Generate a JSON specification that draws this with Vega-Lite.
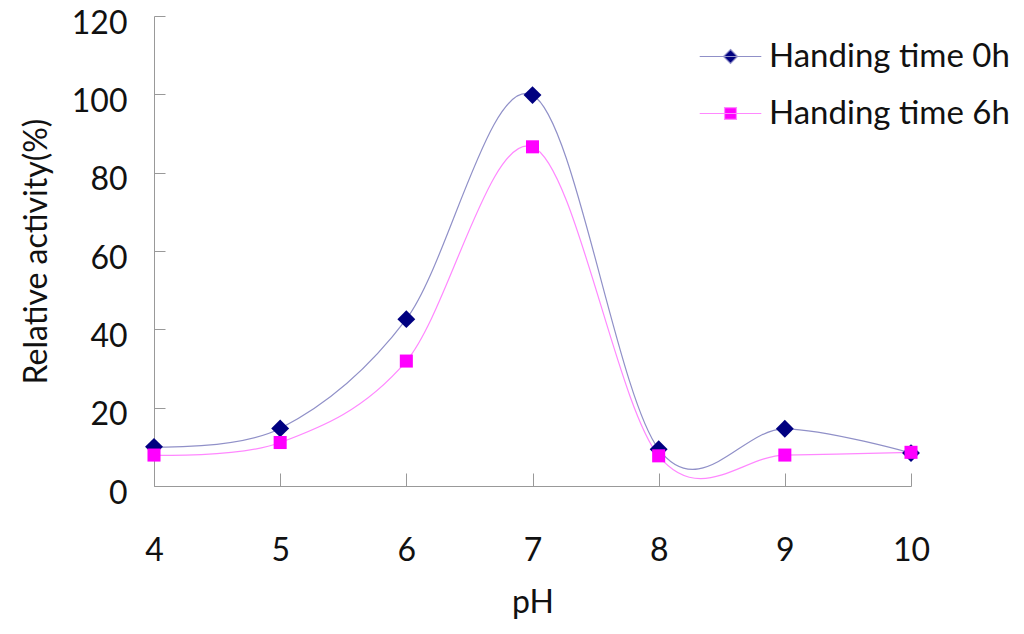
{
  "$schema": "https://vega.github.io/schema/vega-lite/v6.json",
  "width": 757,
  "height": 470,
  "autosize": {"type": "none"},
  "padding": {"left": 154, "top": 16, "right": 113, "bottom": 148},
  "background": "white",
  "config": {
    "view": {"stroke": null},
    "font": "Lato",
    "axis": {"grid": false, "domainColor": "#999999", "tickColor": "#999999", "labelColor": "#111111", "titleColor": "#111111", "labelFont": "Lato", "titleFont": "Lato", "labelFontSize": 32, "titleFontSize": 32, "titleFontWeight": "normal"},
    "legend": {"labelFontSize": 33, "labelFont": "Lato", "labelColor": "#111111", "labelLimit": 0, "labelOffset": 22, "title": null}
  },
  "data": {
    "values": [
      {"pH": 4, "activity": 10.0, "series": "Handing time 0h"},
      {"pH": 5, "activity": 14.7, "series": "Handing time 0h"},
      {"pH": 6, "activity": 42.6, "series": "Handing time 0h"},
      {"pH": 7, "activity": 99.8, "series": "Handing time 0h"},
      {"pH": 8, "activity": 9.4, "series": "Handing time 0h"},
      {"pH": 9, "activity": 14.6, "series": "Handing time 0h"},
      {"pH": 10, "activity": 8.4, "series": "Handing time 0h"},
      {"pH": 4, "activity": 7.9, "series": "Handing time 6h"},
      {"pH": 5, "activity": 11.1, "series": "Handing time 6h"},
      {"pH": 6, "activity": 31.9, "series": "Handing time 6h"},
      {"pH": 7, "activity": 86.6, "series": "Handing time 6h"},
      {"pH": 8, "activity": 7.7, "series": "Handing time 6h"},
      {"pH": 9, "activity": 7.9, "series": "Handing time 6h"},
      {"pH": 10, "activity": 8.6, "series": "Handing time 6h"}
    ]
  },
  "encoding": {
    "x": {
      "field": "pH", "type": "quantitative",
      "scale": {"domain": [4, 10], "nice": false, "zero": false},
      "axis": {"values": [4, 5, 6, 7, 8, 9, 10], "tickSize": -13, "labelPadding": 62, "title": "pH", "titlePadding": 21, "labelFlush": false}
    },
    "y": {
      "field": "activity", "type": "quantitative",
      "scale": {"domain": [0, 120], "nice": false},
      "axis": {"values": [0, 20, 40, 60, 80, 100, 120], "tickSize": -11, "labelPadding": 38, "labelOffset": 7, "title": "Relative activity(%)", "titlePadding": 18}
    }
  },
  "resolve": {"scale": {"fill": "independent"}, "legend": {"fill": "independent"}},
  "layer": [
    {
      "mark": {"type": "line", "interpolate": "cardinal", "tension": 0, "strokeWidth": 1.2},
      "encoding": {
        "stroke": {"field": "series", "type": "nominal", "scale": {"range": ["#9090c8", "#ff88ff"]}, "legend": null}
      }
    },
    {
      "transform": [{"filter": "datum.series === 'Handing time 0h'"}],
      "mark": {"type": "point", "filled": true, "opacity": 1, "shape": "diamond", "size": 320},
      "encoding": {
        "fill": {"field": "series", "type": "nominal", "scale": {"range": ["#000080"]}, "legend": {
          "orient": "none", "legendX": 560, "legendY": 24,
          "symbolType": "M-4.4,0H4.4M0,-1L1,0L0,1L-1,0Z", "symbolSize": 196,
          "symbolStrokeColor": "#9090c8", "symbolStrokeWidth": 1.2
        }}
      }
    },
    {
      "transform": [{"filter": "datum.series === 'Handing time 6h'"}],
      "mark": {"type": "point", "filled": true, "opacity": 1, "shape": "square", "size": 170},
      "encoding": {
        "fill": {"field": "series", "type": "nominal", "scale": {"range": ["#ff00ff"]}, "legend": {
          "orient": "none", "legendX": 560, "legendY": 81,
          "symbolType": "M-4.4,0H4.4M-0.85,-0.85H0.85V0.85H-0.85Z", "symbolSize": 196,
          "symbolStrokeColor": "#ff88ff", "symbolStrokeWidth": 1.2
        }}
      }
    }
  ]
}
